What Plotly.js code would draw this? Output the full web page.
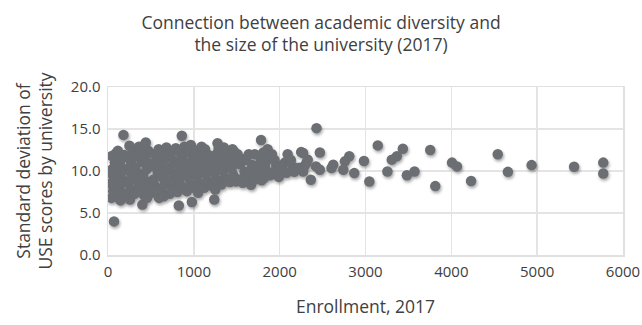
<!DOCTYPE html>
<html>
<head>
<meta charset="utf-8">
<script src="https://cdn.plot.ly/plotly-3.0.1.min.js"></script>
<style>
html,body{margin:0;padding:0;background:#fff;}
#chart{width:642px;height:325px;}
#chart .scatterlayer .trace{filter:drop-shadow(1px 2px 1.5px rgba(0,0,0,0.35));}
</style>
</head>
<body>
<div id="chart"></div>
<script>
// Enrollment, 2017 (x) and standard deviation of USE scores (y)
const enrollment = [
  40,60,30,70,50,80,45,90,70,95,20,85,
  110,150,130,170,120,160,140,190,180,115,175,145,
  250,220,260,240,280,210,270,230,290,255,285,
  310,350,330,370,320,390,340,380,400,360,395,
  440,420,460,480,410,450,490,430,470,455,415,
  510,550,530,580,520,570,540,590,595,560,
  620,660,640,690,610,670,630,680,650,
  720,760,740,780,710,770,730,790,750,
  825,860,810,850,830,880,820,870,840,890,900,
  965,920,960,940,980,910,990,930,977,950,
  1020,1060,1040,1080,1010,1070,1030,1090,1050,
  1120,1160,1140,1180,1110,1170,1130,1190,
  1238,1276,1220,1260,1240,1280,1210,1270,1290,1250,
  1320,1360,1340,1380,1310,1370,1350,1390,
  1471,1420,1460,1440,1480,1410,1490,1450,
  1520,1540,1580,1510,1570,1590,
  1666,1620,1650,1680,1610,1640,1690,
  1783,1720,1760,1740,1780,1710,1790,
  1860,1820,1850,1830,1880,1810,1890,
  1920,1960,1940,1980,1910,1990,
  2093,2030,2060,2080,2010,
  2152,2170,2130,2190,
  2250,2273,2312,2273,2327,2363,2424,2230,2290,2429,
  3143,3435,3754,4541,4935,5430,5770,5770,4659,4230,3813,4008,4066,3571,3482,3365,3306,3255,3045,2982,2869,2811,2760,2741,2624,2604,2468,2468
];
const stdDev = [
  6.8,7.6,8.5,9.3,10.2,11.0,11.8,12.1,4.0,8.0,9.8,10.6,
  6.9,7.5,8.3,9.0,9.7,10.4,11.2,11.9,14.3,12.4,8.6,6.5,
  13.0,7.0,7.8,8.7,9.4,10.1,10.9,11.6,12.3,6.6,10.5,
  7.3,8.0,8.9,9.6,10.3,11.1,11.8,12.6,6.0,12.9,8.5,
  13.4,7.1,7.9,8.7,9.4,10.2,10.9,11.7,12.4,6.8,13.0,
  7.4,8.2,9.0,9.8,10.6,11.3,12.0,12.6,6.8,7.7,
  7.6,8.4,9.2,10.0,10.7,11.5,12.2,12.8,7.0,
  7.3,8.1,8.9,9.7,10.4,11.2,12.0,12.7,7.7,
  5.9,14.2,7.5,8.3,9.1,9.9,10.7,11.4,12.2,12.9,7.8,
  13.1,7.6,8.4,9.2,10.0,10.8,11.5,12.3,6.3,12.8,
  7.9,8.6,9.4,10.2,11.0,11.7,12.4,12.9,7.4,
  8.0,8.8,9.6,10.4,11.2,11.9,12.6,8.3,
  6.6,13.3,8.2,9.0,9.8,10.6,11.4,12.1,12.7,7.8,
  8.4,9.2,10.0,10.8,11.5,12.2,12.8,8.8,
  12.3,8.7,9.5,10.3,11.0,11.7,8.75,12.6,
  9.0,10.8,11.4,12.0,8.6,9.9,
  8.35,9.2,10.0,10.7,11.3,12.0,9.5,
  13.7,9.0,9.8,10.6,11.3,12.0,8.9,
  12.6,9.2,10.0,10.8,11.5,12.2,9.5,
  9.8,10.6,11.3,10.0,12.0,9.3,
  12.0,10.2,11.0,9.8,10.6,
  10.55,9.9,11.3,10.2,
  12.25,12.15,10.95,9.95,11.35,8.95,10.55,10.4,10.6,15.1,
  13.05,12.65,12.5,12.0,10.7,10.5,11.0,9.7,9.9,8.8,8.2,11.0,10.55,9.95,9.5,11.75,11.35,9.95,8.75,11.2,9.75,11.75,11.15,10.15,10.75,10.35,12.2,10.15
];
const xTicks = [0,1000,2000,3000,4000,5000,6000];
const yTicks = [0,5,10,15,20];

const FONT = '"Open Sans", "Noto Sans", sans-serif';
const TXT = '#404040';

Plotly.newPlot('chart', [{
  type: 'scatter',
  mode: 'markers',
  x: enrollment,
  y: stdDev,
  marker: {color: '#6b6e72', size: 10.5, line: {width: 0}},
  hoverinfo: 'skip'
}], {
  width: 642, height: 325,
  margin: {l: 108, r: 19, t: 87, b: 70},
  paper_bgcolor: '#fff', plot_bgcolor: '#fff',
  showlegend: false,
  font: {family: FONT, color: TXT, size: 15},
  title: {
    text: 'Connection between academic diversity and<br>the size of the university (2017)',
    font: {family: FONT, size: 17.5, color: TXT},
    x: 0.5, xanchor: 'center', y: 0.912, yanchor: 'top'
  },
  xaxis: {
    range: [0, 6000], tickvals: xTicks, ticktext: xTicks.map(String),
    showgrid: true, gridcolor: '#e4e4e4', gridwidth: 1.5,
    showline: true, linecolor: '#e0e0e0', linewidth: 1.5, mirror: true,
    zeroline: false, ticks: '', ticklen: 0, ticklabelstandoff: 2,
    tickfont: {family: FONT, size: 15, color: TXT},
    title: {text: 'Enrollment, 2017', font: {family: FONT, size: 17.5, color: TXT}, standoff: 21}
  },
  yaxis: {
    range: [0, 20], tickvals: yTicks, ticktext: yTicks.map(v => v.toFixed(1)),
    showgrid: true, gridcolor: '#e4e4e4', gridwidth: 1.5,
    showline: true, linecolor: '#e0e0e0', linewidth: 1.5, mirror: true,
    zeroline: false, ticks: '', ticklen: 0, ticklabelstandoff: 3,
    tickfont: {family: FONT, size: 15, color: TXT},
    title: {text: 'Standard deviation of<br>USE scores by university', font: {family: FONT, size: 17.5, color: TXT}, standoff: 13}
  }
}, {staticPlot: true, displayModeBar: false});
</script>
</body>
</html>
